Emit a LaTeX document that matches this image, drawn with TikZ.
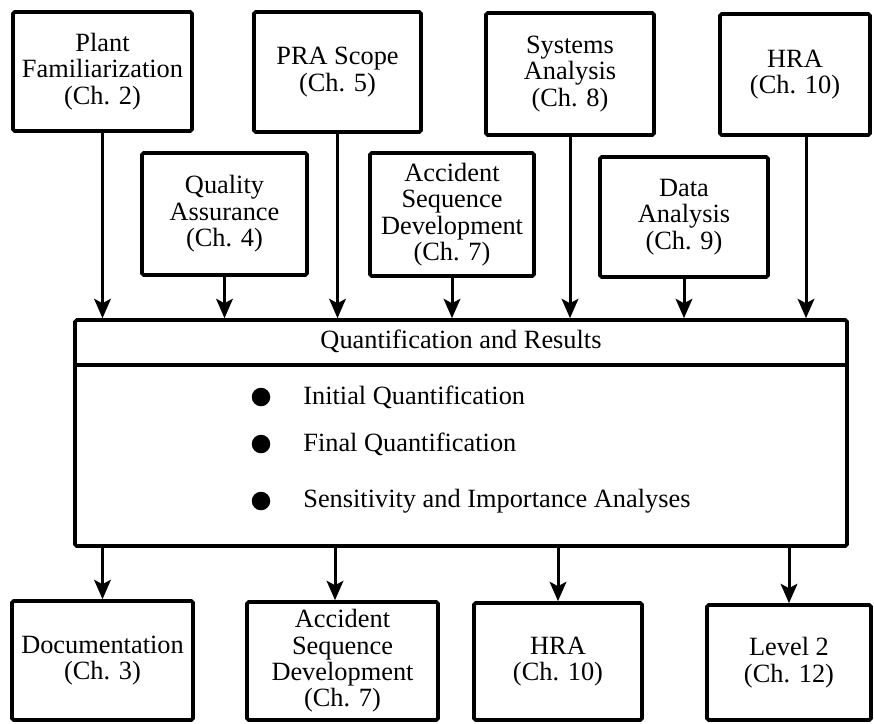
\documentclass[tikz,border=0pt]{standalone}
\usepackage{fontspec}
\setmainfont{Liberation Serif}
\usetikzlibrary{arrows.meta,positioning}

\begin{document}
\begin{tikzpicture}[
    x=0.02cm, y=-0.02cm,
    >={Stealth[length=11pt,width=9.5pt,inset=2.5pt]},
    box/.style={rectangle, draw, line width=2.1pt, rounded corners=1pt, inner sep=2pt, align=center, font=\fontsize{15}{15}\selectfont},
    flow/.style={->, line width=1.7pt},
    dot/.style={circle, fill, inner sep=0pt, minimum size=0.37cm},
    item/.style={anchor=west, inner sep=0pt, font=\fontsize{15}{15}\selectfont},
]
\useasboundingbox (0,0) rectangle (874,723);

% --- Top row ---
\node[box, minimum width=3.58cm, minimum height=2.38cm] (plant) at (102.5,71.5) {Plant\\Familiarization\\(Ch. 2)};
\node[box, minimum width=3.34cm, minimum height=2.40cm] (scope) at (337.5,72) {PRA Scope\\(Ch. 5)};
\node[box, minimum width=3.36cm, minimum height=2.44cm] (sys) at (570,74) {Systems\\Analysis\\(Ch. 8)};
\node[box, minimum width=3.00cm, minimum height=2.42cm] (hraA) at (795,74.5) {HRA\\(Ch. 10)};

% --- Second row ---
\node[box, minimum width=3.30cm, minimum height=2.44cm] (qa) at (224.5,214) {Quality\\Assurance\\(Ch. 4)};
\node[box, minimum width=3.28cm, minimum height=2.46cm] (asdA) at (452,214.5) {Accident\\Sequence\\Development\\(Ch. 7)};
\node[box, minimum width=3.36cm, minimum height=2.40cm] (data) at (684,217) {Data\\Analysis\\(Ch. 9)};

% --- Quantification box ---
\node[box, minimum width=15.44cm, minimum height=4.52cm] (main) at (461,433) {};
\node[minimum width=15.44cm, minimum height=0.92cm, anchor=north, font=\fontsize{15}{15}\selectfont] (title) at (main.north) {Quantification and Results};
\draw[line width=2.1pt] (title.south west) -- (title.south east);
\foreach \yy/\txt [count=\i] in {397/Initial Quantification, 444/Final Quantification, 501/Sensitivity and Importance Analyses} {
    \node[dot] (dot\i) at (261,\yy) {};
    \node[item] (item\i) at (303,\yy) {\txt};
}

% --- Bottom row ---
\node[box, minimum width=3.62cm, minimum height=2.38cm] (doc) at (102.5,660.5) {Documentation\\(Ch. 3)};
\node[box, minimum width=3.82cm, minimum height=2.36cm] (asdB) at (342.5,661) {Accident\\Sequence\\Development\\(Ch. 7)};
\node[box, minimum width=3.36cm, minimum height=2.34cm] (hraB) at (558,661.5) {HRA\\(Ch. 10)};
\node[box, minimum width=3.28cm, minimum height=2.30cm] (lvl) at (789,662.5) {Level 2\\(Ch. 12)};

% --- Arrows into quantification ---
\foreach \src in {plant,qa,scope,asdA,sys,data}
    \draw[flow] (\src.south) -- (\src.south |- main.north);
\draw[flow] ([xshift=0.22cm]hraA.south) -- ([xshift=0.22cm]hraA.south |- main.north);

% --- Arrows out of quantification ---
\foreach \dst in {doc,hraB,lvl}
    \draw[flow] (\dst.north |- main.south) -- (\dst.north);
\draw[flow] ([xshift=-0.15cm]asdB.north |- main.south) -- ([xshift=-0.15cm]asdB.north);

\end{tikzpicture}
\end{document}
